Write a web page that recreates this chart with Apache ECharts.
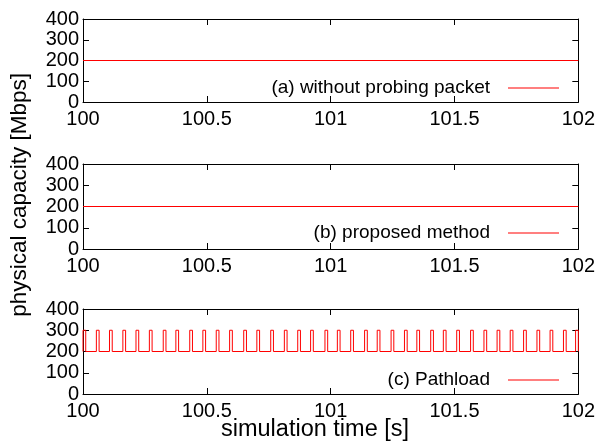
<!DOCTYPE html>
<html>
<head>
<meta charset="utf-8">
<script src="https://cdn.jsdelivr.net/npm/echarts@6/dist/echarts.min.js"></script>
<style>html,body{margin:0;padding:0;background:#fff}</style>
</head>
<body>
<div id="main" style="width:598px;height:448px"></div>
<script>
// values
var xTicks = [100, 100.5, 101, 101.5, 102];
var yTicks = [0, 100, 200, 300, 400];
var panelNames = ['(a) without probing packet', '(b) proposed method', '(c) Pathload'];

// (a) and (b): flat capacity
var timeA = [100, 102];
var capA = [200, 200];
var timeB = [100, 102];
var capB = [200, 200];

// (c) Pathload: probing bursts push capacity from 200 to 300
var pulseStart = [100.000, 100.054, 100.107, 100.161, 100.214, 100.268, 100.324, 100.375,
  100.431, 100.484, 100.538, 100.592, 100.649, 100.702, 100.758, 100.813, 100.867, 100.919,
  100.977, 101.027, 101.081, 101.137, 101.188, 101.244, 101.298, 101.348, 101.404, 101.455,
  101.509, 101.565, 101.619, 101.672, 101.725, 101.779, 101.833, 101.886, 101.940, 101.989];
var pulseWidth = 0.011;
var baseCap = 200;
var probeCap = 300;

var font = "'Liberation Sans', Arial, Helvetica, sans-serif";
var grids = [
  { left: 83, right: 16, top: 19, height: 83 },
  { left: 83, right: 16, top: 164, height: 85 },
  { left: 83, right: 16, top: 309, height: 85 }
];
var legendTop = [78, 223, 370];

function pairs(xs, ys) {
  return xs.map(function (x, i) { return [x, ys[i]]; });
}

var dataC = [];
pulseStart.forEach(function (s) {
  var e = Math.min(s + pulseWidth, xTicks[xTicks.length - 1]);
  dataC.push([s, baseCap], [s, probeCap], [e, probeCap], [e, baseCap]);
});

var panelData = [pairs(timeA, capA), pairs(timeB, capB), dataC];

var xAxis = [], yAxis = [], series = [], legend = [];
grids.forEach(function (g, i) {
  var common = {
    gridIndex: i,
    type: 'value',
    splitLine: { show: false },
    axisLine: { show: true, onZero: false, lineStyle: { color: '#000', width: 1 } },
    axisTick: { show: true, inside: true, length: 6, lineStyle: { color: '#000' } }
  };
  xAxis.push(Object.assign({}, common, {
    position: 'bottom', min: xTicks[0], max: xTicks[xTicks.length - 1], interval: 0.5,
    axisLabel: { show: true, margin: 7, fontSize: 20, color: '#000', fontFamily: font,
      formatter: function (v) { return String(v); } }
  }));
  xAxis.push(Object.assign({}, common, {
    position: 'top', min: xTicks[0], max: xTicks[xTicks.length - 1], interval: 0.5,
    axisLabel: { show: false }
  }));
  yAxis.push(Object.assign({}, common, {
    position: 'left', min: yTicks[0], max: yTicks[yTicks.length - 1], interval: 100,
    axisLabel: { show: true, margin: 4, fontSize: 20, color: '#000', fontFamily: font }
  }));
  yAxis.push(Object.assign({}, common, {
    position: 'right', min: yTicks[0], max: yTicks[yTicks.length - 1], interval: 100,
    axisLabel: { show: false }
  }));
  series.push({
    name: panelNames[i],
    type: 'line',
    xAxisIndex: i * 2,
    yAxisIndex: i * 2,
    symbol: 'none',
    animation: false,
    lineStyle: { color: '#ff0000', width: 1 },
    itemStyle: { color: '#ff0000' },
    data: panelData[i]
  });
  legend.push({
    data: [panelNames[i]],
    right: 39,
    top: legendTop[i],
    padding: 0,
    align: 'right',
    icon: 'rect',
    itemWidth: 51,
    itemHeight: 1,
    itemStyle: { color: '#ff0000' },
    selectedMode: false,
    textStyle: { fontSize: 19, color: '#000', fontFamily: font, lineHeight: 20, padding: [0, 13, 0, 0] }
  });
});

var myChart = echarts.init(document.getElementById('main'), null, { renderer: 'canvas' });
var option = {
  backgroundColor: '#fff',
  animation: false,
  grid: grids,
  xAxis: xAxis,
  yAxis: yAxis,
  legend: legend,
  series: series,
  graphic: [
    {
      type: 'text', left: 8, top: 73, rotation: Math.PI / 2,
      style: { text: 'physical capacity [Mbps]', fontSize: 22.5, fill: '#000', fontFamily: font }
    },
    {
      type: 'text', left: 221, top: 418,
      style: { text: 'simulation time [s]', fontSize: 23.5, fill: '#000', fontFamily: font }
    }
  ]
};
option && myChart.setOption(option);
</script>
</body>
</html>
